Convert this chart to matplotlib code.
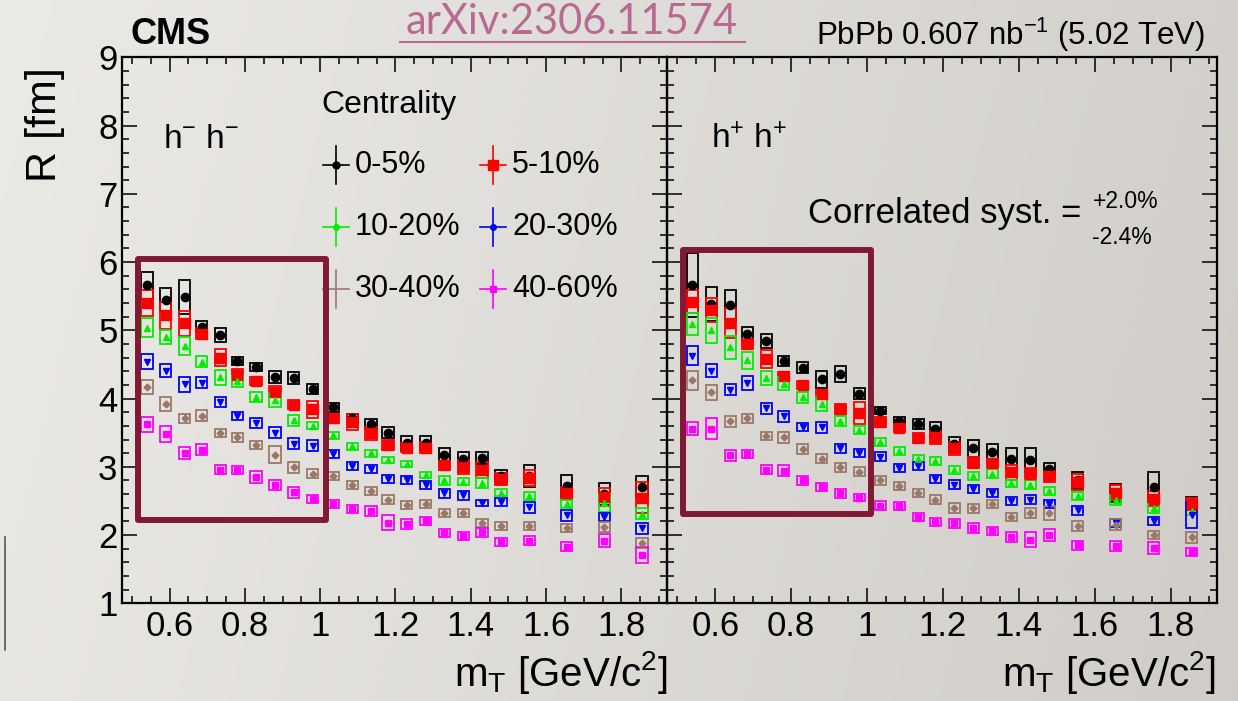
import numpy as np
import matplotlib
matplotlib.use("Agg")
import matplotlib.pyplot as plt
from matplotlib.patches import Rectangle
from matplotlib.lines import Line2D

plt.rcParams['font.family'] = ['Liberation Sans', 'DejaVu Sans']
plt.rcParams['mathtext.fontset'] = 'custom'
plt.rcParams['mathtext.rm'] = 'Liberation Sans'
plt.rcParams['mathtext.it'] = 'Liberation Sans'

# ---------------- data ----------------
mT = [0.54, 0.59, 0.64, 0.685, 0.735, 0.78, 0.83, 0.88, 0.93, 0.98, 1.035, 1.085,
      1.135, 1.18, 1.23, 1.28, 1.33, 1.38, 1.43, 1.48, 1.555, 1.655, 1.755, 1.855]

centralities = ["0-5%", "5-10%", "10-20%", "20-30%", "30-40%", "40-60%"]

# h- h- (left panel)
neg_0_5 = [5.66, 5.45, 5.49, 5.05, 4.93, 4.55, 4.46, 4.32, 4.30, 4.14, 3.87, 3.72,
           3.63, 3.50, 3.35, 3.35, 3.18, 3.12, 3.13, 2.86, 2.86, 2.72, 2.60, 2.70]
neg_5_10 = [5.40, 5.22, 5.10, 4.95, 4.60, 4.35, 4.26, 4.10, 3.91, 3.84, 3.71, 3.66,
            3.49, 3.32, 3.28, 3.28, 3.02, 3.00, 2.95, 2.82, 2.84, 2.62, 2.56, 2.55]
neg_10_20 = [5.04, 4.90, 4.77, 4.54, 4.31, 4.25, 4.02, 3.98, 3.68, 3.60, 3.46, 3.30,
             3.20, 3.10, 3.04, 2.88, 2.80, 2.78, 2.76, 2.62, 2.57, 2.45, 2.47, 2.31]
neg_20_30 = [4.54, 4.41, 4.21, 4.23, 3.95, 3.74, 3.64, 3.50, 3.34, 3.31, 3.19, 3.01,
             2.97, 2.82, 2.81, 2.73, 2.61, 2.58, 2.47, 2.48, 2.41, 2.29, 2.27, 2.10]
neg_30_40 = [4.17, 3.92, 3.71, 3.75, 3.49, 3.43, 3.32, 3.18, 2.99, 2.90, 2.87, 2.73,
             2.64, 2.52, 2.44, 2.45, 2.32, 2.32, 2.18, 2.13, 2.13, 2.10, 2.12, 1.88]
neg_40_60 = [3.62, 3.48, 3.20, 3.25, 2.96, 2.95, 2.85, 2.73, 2.63, 2.53, 2.45, 2.38,
             2.35, 2.18, 2.16, 2.21, 2.03, 1.99, 2.04, 1.90, 1.92, 1.83, 1.92, 1.71]

neg_sys_0_5 = [0.20, 0.17, 0.25, 0.08, 0.10, 0.06, 0.06, 0.09, 0.09, 0.08, 0.06, 0.06,
               0.07, 0.08, 0.10, 0.10, 0.10, 0.09, 0.09, 0.09, 0.16, 0.16, 0.16, 0.16]
neg_sys_5_10 = [0.19, 0.20, 0.18, 0.08, 0.12, 0.08, 0.06, 0.08, 0.07, 0.13, 0.07, 0.12,
                0.09, 0.07, 0.07, 0.08, 0.07, 0.10, 0.12, 0.09, 0.12, 0.09, 0.13, 0.23]
neg_sys_10_20 = [0.14, 0.10, 0.13, 0.08, 0.11, 0.08, 0.07, 0.10, 0.08, 0.05, 0.05, 0.05,
                 0.05, 0.05, 0.05, 0.05, 0.06, 0.05, 0.07, 0.05, 0.06, 0.06, 0.13, 0.08]
neg_sys_20_30 = [0.11, 0.10, 0.11, 0.08, 0.08, 0.06, 0.07, 0.08, 0.08, 0.08, 0.06, 0.06,
                 0.06, 0.06, 0.06, 0.06, 0.06, 0.06, 0.05, 0.06, 0.08, 0.08, 0.06, 0.08]
neg_sys_30_40 = [0.10, 0.10, 0.07, 0.08, 0.06, 0.07, 0.06, 0.12, 0.08, 0.07, 0.06, 0.06,
                 0.06, 0.07, 0.06, 0.06, 0.06, 0.06, 0.06, 0.06, 0.06, 0.06, 0.07, 0.07]
neg_sys_40_60 = [0.11, 0.12, 0.09, 0.08, 0.07, 0.06, 0.09, 0.07, 0.08, 0.06, 0.06, 0.06,
                 0.07, 0.11, 0.07, 0.06, 0.06, 0.06, 0.07, 0.06, 0.06, 0.07, 0.09, 0.12]

# h+ h+ (right panel)
pos_0_5 = [5.66, 5.38, 5.37, 4.95, 4.84, 4.55, 4.45, 4.28, 4.36, 4.07, 3.82, 3.67,
           3.63, 3.55, 3.33, 3.27, 3.22, 3.12, 3.10, 2.97, 2.80, 2.62, 2.70, 2.47]
pos_5_10 = [5.42, 5.30, 5.10, 4.80, 4.58, 4.33, 4.20, 4.07, 3.85, 3.79, 3.66, 3.57,
            3.42, 3.43, 3.27, 3.06, 3.05, 2.92, 2.89, 2.86, 2.78, 2.62, 2.53, 2.46]
pos_10_20 = [5.09, 5.00, 4.75, 4.56, 4.30, 4.22, 4.02, 3.92, 3.67, 3.54, 3.36, 3.23,
             3.12, 3.09, 2.95, 2.87, 2.90, 2.76, 2.74, 2.65, 2.57, 2.51, 2.39, 2.35]
pos_20_30 = [4.63, 4.41, 4.13, 4.23, 3.86, 3.74, 3.58, 3.58, 3.27, 3.20, 3.15, 2.98,
             3.01, 2.82, 2.74, 2.68, 2.62, 2.50, 2.52, 2.45, 2.36, 2.18, 2.21, 2.30]
pos_30_40 = [4.27, 4.09, 3.67, 3.71, 3.45, 3.43, 3.26, 3.12, 2.99, 2.93, 2.80, 2.72,
             2.62, 2.52, 2.40, 2.39, 2.46, 2.27, 2.32, 2.32, 2.13, 2.15, 2.00, 1.97]
pos_40_60 = [3.56, 3.56, 3.17, 3.19, 2.96, 2.94, 2.80, 2.70, 2.61, 2.55, 2.43, 2.42,
             2.27, 2.19, 2.17, 2.10, 2.06, 1.97, 1.93, 2.00, 1.85, 1.84, 1.81, 1.75]

pos_sys_0_5 = [0.47, 0.25, 0.22, 0.10, 0.10, 0.07, 0.08, 0.13, 0.12, 0.08, 0.05, 0.06,
               0.07, 0.11, 0.11, 0.12, 0.12, 0.15, 0.17, 0.08, 0.13, 0.13, 0.23, 0.09]
pos_sys_5_10 = [0.17, 0.18, 0.22, 0.07, 0.13, 0.06, 0.06, 0.06, 0.07, 0.16, 0.07, 0.06,
                0.07, 0.10, 0.09, 0.08, 0.07, 0.11, 0.09, 0.08, 0.12, 0.11, 0.11, 0.09]
pos_sys_10_20 = [0.16, 0.18, 0.17, 0.12, 0.10, 0.09, 0.08, 0.10, 0.07, 0.06, 0.06, 0.06,
                 0.05, 0.06, 0.06, 0.06, 0.07, 0.05, 0.07, 0.06, 0.06, 0.07, 0.07, 0.05]
pos_sys_20_30 = [0.14, 0.09, 0.08, 0.10, 0.08, 0.08, 0.06, 0.08, 0.07, 0.06, 0.06, 0.06,
                 0.06, 0.06, 0.06, 0.06, 0.06, 0.06, 0.06, 0.06, 0.07, 0.06, 0.06, 0.19]
pos_sys_30_40 = [0.14, 0.11, 0.08, 0.07, 0.06, 0.08, 0.07, 0.07, 0.07, 0.06, 0.07, 0.06,
                 0.06, 0.07, 0.07, 0.07, 0.06, 0.06, 0.07, 0.10, 0.07, 0.08, 0.06, 0.08]
pos_sys_40_60 = [0.09, 0.15, 0.08, 0.06, 0.07, 0.08, 0.07, 0.06, 0.07, 0.05, 0.07, 0.06,
                 0.06, 0.06, 0.06, 0.07, 0.06, 0.07, 0.11, 0.09, 0.07, 0.08, 0.09, 0.06]

x_ticks = [0.6, 0.8, 1.0, 1.2, 1.4, 1.6, 1.8]
x_tick_labels = ["0.6", "0.8", "1", "1.2", "1.4", "1.6", "1.8"]
y_ticks = [1, 2, 3, 4, 5, 6, 7, 8, 9]

# ---------------- style ----------------
colors = ["#000000", "#ff0000", "#00ee00", "#0000ff", "#9a7868", "#ff00ff"]
markers = ["o", "s", "^", "v", "D", "s"]
msizes = [6.0, 7.0, 5.0, 5.0, 3.5, 4.5]
W, H = 1238, 701


def fx(px):
    return px / W


def fy(py):
    return 1 - py / H


fig = plt.figure(figsize=(W / 100, H / 100), dpi=100)

# slide background gradient
bg = fig.add_axes([0, 0, 1, 1], zorder=-10)
gx = np.linspace(0, 1, 300)[None, :]
gy = np.linspace(0, 1, 200)[:, None]
left_c = np.array([236, 234, 231]) / 255.0
right_c = np.array([207, 204, 199]) / 255.0
t = np.clip(0.85 * gx + 0.12 * gy, 0, 1)
img = left_c[None, None, :] * (1 - t[..., None]) + right_c[None, None, :] * t[..., None]
bg.imshow(img, aspect='auto', extent=[0, 1, 0, 1], origin='upper')
bg.axis('off')

y0, y1 = fy(603.3), fy(57.3)
axL = fig.add_axes([fx(121.7), y0, fx(667) - fx(121.7), y1 - y0])
axR = fig.add_axes([fx(667), y0, fx(1216.7) - fx(667), y1 - y0])

panels = [
    (axL, [neg_0_5, neg_5_10, neg_10_20, neg_20_30, neg_30_40, neg_40_60],
     [neg_sys_0_5, neg_sys_5_10, neg_sys_10_20, neg_sys_20_30, neg_sys_30_40, neg_sys_40_60]),
    (axR, [pos_0_5, pos_5_10, pos_10_20, pos_20_30, pos_30_40, pos_40_60],
     [pos_sys_0_5, pos_sys_5_10, pos_sys_10_20, pos_sys_20_30, pos_sys_30_40, pos_sys_40_60]),
]

box_w = 0.03
for ax, series, syss in panels:
    ax.set_facecolor('none')
    ax.set_xlim(0.473, 1.921)
    ax.set_ylim(1, 9)
    for i in range(len(series)):
        vals = series[i]
        ss = syss[i]
        for xv, yv, sv in zip(mT, vals, ss):
            ax.add_patch(Rectangle((xv - box_w / 2, yv - sv), box_w, 2 * sv,
                                   facecolor='none', edgecolor=colors[i], lw=1.3,
                                   zorder=2 + i * 0.1))
        ax.plot(mT, vals, linestyle='none', marker=markers[i], ms=msizes[i],
                color=colors[i], mec=colors[i], zorder=3 + i * 0.1)
    ax.set_xticks(x_ticks)
    ax.set_xticks(np.arange(0.5, 1.95, 0.05), minor=True)
    ax.set_yticks(y_ticks)
    ax.set_yticks(np.arange(1, 9.01, 0.2), minor=True)
    ax.set_xticklabels(x_tick_labels)
    ax.tick_params(which='both', direction='in', top=True, right=True,
                   width=1.1, labelsize=25, colors='black')
    ax.tick_params(which='major', length=11)
    ax.tick_params(which='minor', length=5)
    ax.tick_params(axis='x', pad=5)
    ax.tick_params(axis='y', pad=3)
    for sp in ax.spines.values():
        sp.set_linewidth(1.6)

axR.set_yticklabels([])

# axis titles
fig.text(fx(668), fy(672), r"m$_\mathregular{T}$ [GeV/c$^\mathregular{2}$]", ha='right', va='center', fontsize=29)
fig.text(fx(1216), fy(672), r"m$_\mathregular{T}$ [GeV/c$^\mathregular{2}$]", ha='right', va='center', fontsize=29)
fig.text(fx(45), fy(125), "R [fm]", rotation=90, ha='center', va='center', fontsize=31)

# header
fig.text(fx(130), fy(35), "CMS", ha='left', va='center', fontsize=26, fontweight='bold')
fig.text(fx(1205), fy(35), r"PbPb 0.607 nb$^\mathregular{-1}$ (5.02 TeV)", ha='right', va='center', fontsize=22.5)
fig.text(fx(572), fy(22), "arXiv:2306.11574", ha='center', va='center', fontsize=30,
         color='#b86a92', family=['Lato', 'DejaVu Sans'])
fig.add_artist(Line2D([fx(400), fx(745)], [fy(42), fy(42)], color='#b86a92', lw=1.5))

# panel labels
fig.text(fx(163), fy(140), r"h$^{-}$ h$^{-}$", ha='left', va='center', fontsize=24)
fig.text(fx(711), fy(140), r"h$^{+}$ h$^{+}$", ha='left', va='center', fontsize=24)
fig.text(fx(808), fy(213), "Correlated syst. =", ha='left', va='center', fontsize=25)
fig.text(fx(1093), fy(201), "+2.0%", ha='left', va='center', fontsize=16.5)
fig.text(fx(1092), fy(238), "-2.4%", ha='left', va='center', fontsize=16.5)

# legend
fig.text(fx(321), fy(105), "Centrality", ha='left', va='center', fontsize=23)
leg_pos = [(336, 165), (493, 165), (336, 227), (493, 227), (336, 289), (493, 289)]
leg_ms = [5, 7, 4, 4, 0, 5]
leg_mk = ["o", "s", "o", "o", "o", "s"]
for i, (lx, ly) in enumerate(leg_pos):
    fig.add_artist(Line2D([fx(lx - 13), fx(lx + 13)], [fy(ly), fy(ly)], color=colors[i], lw=1.2))
    fig.add_artist(Line2D([fx(lx), fx(lx)], [fy(ly - 19), fy(ly + 19)], color=colors[i], lw=1.2))
    if leg_ms[i] > 0:
        fig.add_artist(Line2D([fx(lx)], [fy(ly)], marker=leg_mk[i], ms=leg_ms[i],
                              color=colors[i], linestyle='none'))
    fig.text(fx(lx + 19), fy(ly), centralities[i], ha='left', va='center', fontsize=22)

# highlight frames
frame_c = '#801a32'
fig.add_artist(Rectangle((fx(138), fy(520)), fx(326) - fx(138), fy(259) - fy(520),
                         transform=fig.transFigure, facecolor='none', edgecolor=frame_c,
                         lw=4.3, joinstyle='round', zorder=10))
fig.add_artist(Rectangle((fx(683.5), fy(514)), fx(871) - fx(683.5), fy(250) - fy(514),
                         transform=fig.transFigure, facecolor='none', edgecolor=frame_c,
                         lw=4.3, joinstyle='round', zorder=10))

# slide artifact line at left edge
fig.add_artist(Line2D([fx(5), fx(5)], [fy(537), fy(650)], color='#555555', lw=1.2))

fig.savefig("out.png", dpi=100)
